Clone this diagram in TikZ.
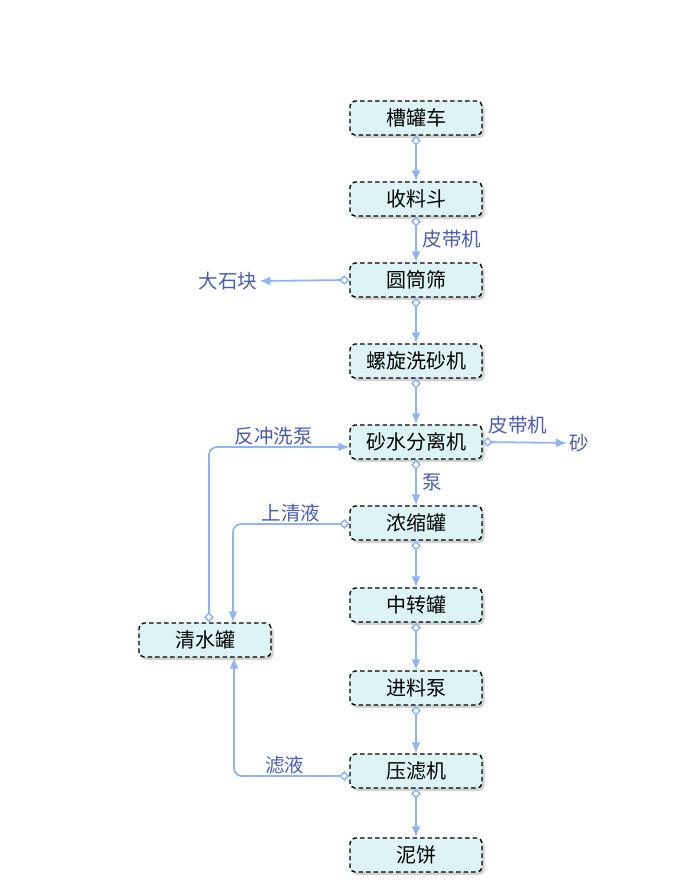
\documentclass[tikz,border=0pt]{standalone}
\usepackage{fontspec}
\setmainfont{Noto Sans CJK SC}
\usepackage{tikz}
\usetikzlibrary{arrows.meta,shadows}

\definecolor{boxfill}{HTML}{DDF4F6}
\definecolor{flowline}{HTML}{8FB4F4}
\definecolor{lbltext}{HTML}{4C5DB0}

\tikzset{
  box/.style={draw=black,line width=1.4pt,dash pattern=on 4.5pt off 3pt,
    fill=boxfill,rounded corners=5pt,minimum width=132pt,minimum height=34pt,
    inner sep=0pt,font=\fontsize{20}{22}\selectfont,
    drop shadow={shadow xshift=2.5pt,shadow yshift=-3pt,opacity=0.35,fill=gray}},
  flow/.style={draw=flowline,line width=1.8pt,rounded corners=8pt,
    {Diamond[open,length=10pt,width=10pt,line width=1.5pt]}-{Latex[length=11pt,width=9pt]}},
  lbl/.style={text=lbltext,font=\fontsize{19.5}{22}\selectfont,inner sep=2pt}
}

\begin{document}
\begin{tikzpicture}[x=1pt,y=-1pt]
  \useasboundingbox (0,0) rectangle (695,890);
  % ---------- main column
  \node[box] (tank)  at (416,118) {槽罐车};
  \node[box] (hop)   at (416,199) {收料斗};
  \node[box] (drum)  at (416,280) {圆筒筛};
  \node[box] (screw) at (416,361) {螺旋洗砂机};
  \node[box] (sep)   at (416,442) {砂水分离机};
  \node[box] (thick) at (416,523) {浓缩罐};
  \node[box] (mid)   at (416,605) {中转罐};
  \node[box] (feed)  at (416,688) {进料泵};
  \node[box] (press) at (416,771) {压滤机};
  \node[box] (cake)  at (416,855) {泥饼};
  % ---------- side nodes
  \node[box] (clear) at (205,640) {清水罐};
  \node[lbl] (rock)  at (228,281) {大石块};
  \node[lbl] (sand)  at (579,443) {砂};
  % ---------- main flow
  \draw[flow] (tank) -- (hop);
  \draw[flow] (hop) -- node[lbl,right,xshift=4pt]{皮带机} (drum);
  \draw[flow] (drum) -- (screw);
  \draw[flow] (screw) -- (sep);
  \draw[flow] (sep) -- node[lbl,right,xshift=4pt]{泵} (thick);
  \draw[flow] (thick) -- (mid);
  \draw[flow] (mid) -- (feed);
  \draw[flow] (feed) -- (press);
  \draw[flow] (press) -- (cake);
  % ---------- branches
  \draw[flow,rounded corners=0pt] (drum.west) -- (rock.east);
  \draw[flow,rounded corners=0pt] (sep.east) -- node[lbl,above,pos=0.42,yshift=5pt]{皮带机} (sand.west);
  \draw[flow] ([xshift=4pt]clear.north) |- node[lbl,above,pos=0.73,yshift=-1pt]{反冲洗泵} ([yshift=-5pt]sep.west);
  \draw[flow] ([yshift=-1pt]thick.west) -| node[lbl,above,pos=0.25,yshift=-1pt]{上清液} ([xshift=28pt]clear.north);
  \draw[flow] ([yshift=-5pt]press.west) -| node[lbl,above,pos=0.28,yshift=-1pt]{滤液} ([xshift=29pt]clear.south);
\end{tikzpicture}
\end{document}
